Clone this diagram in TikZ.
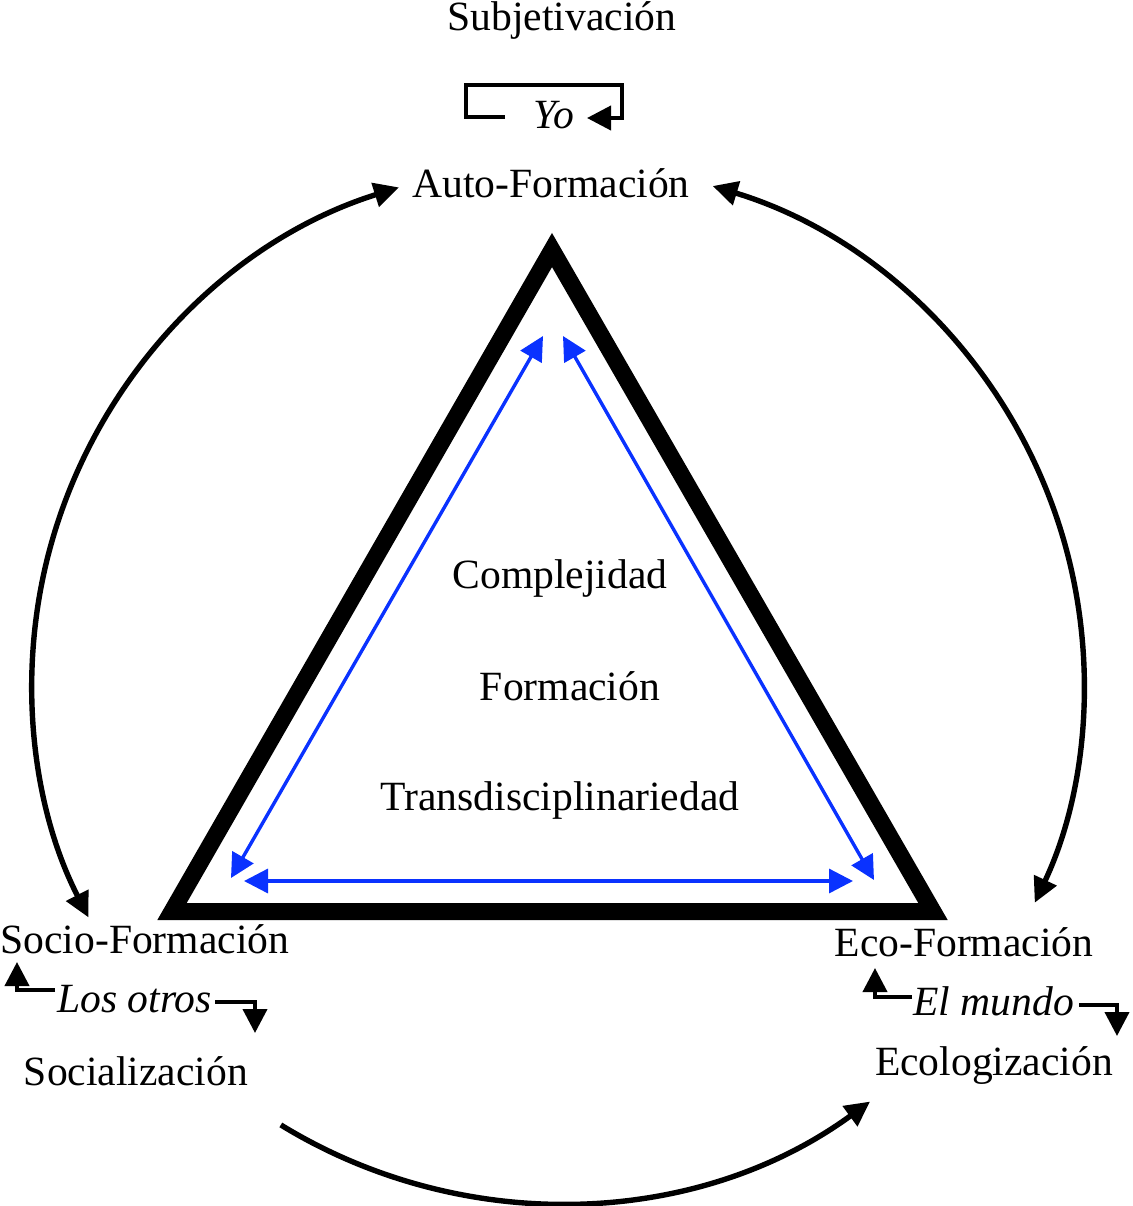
\documentclass[tikz,border=0pt]{standalone}
\usepackage{fontspec}
\setmainfont{Liberation Serif}
\usetikzlibrary{arrows.meta}
\definecolor{arrowblue}{RGB}{10,50,255}
\begin{document}
\begin{tikzpicture}[x=0.5pt,y=-0.5pt,
  lbl/.style={inner sep=0pt,anchor=base,font=\fontsize{20.8}{25}\selectfont},
  ilbl/.style={lbl,font=\fontsize{20.8}{25}\selectfont\itshape},
  bigarc/.style={line width=2.7pt,{Triangle[length=12.5pt,width=12pt]}-{Triangle[length=12.5pt,width=12pt]}},
  onearc/.style={line width=2.7pt,-{Triangle[length=12.5pt,width=12pt]}},
  bluearr/.style={draw=arrowblue,line width=1.7pt,{Triangle[length=12pt,width=12pt]}-{Triangle[length=12pt,width=12pt]}},
  smallarr/.style={line width=2pt,-{Triangle[length=12pt,width=12pt]}},
  tri/.style={line width=8.5pt,miter limit=10}]
\useasboundingbox (0,0) rectangle (1132,1206);

% texts
\node[lbl] (subj) at (562,30) {Subjetivación};
\node[ilbl] (yo) at (554,128) {Yo};
\node[lbl] (auto) at (551,197) {Auto-Formación};
\node[lbl] (comp) at (560,588) {Complejidad};
\node[lbl] (form) at (570,700) {Formación};
\node[lbl] (trans) at (560,810) {Transdisciplinariedad};
\node[lbl,anchor=base west] (socio) at (0,953) {Socio-Formación};
\node[ilbl,anchor=base west] (otros) at (57,1012) {Los otros};
\node[lbl] (socia) at (136,1085) {Socialización};
\node[lbl] (eco) at (964,956) {Eco-Formación};
\node[ilbl,anchor=base west] (mundo) at (913,1015) {El mundo};
\node[lbl] (ecol) at (994,1075) {Ecologización};

% triangle
\coordinate (tA) at (552,250);
\coordinate (tB) at (172,911.5);
\coordinate (tC) at (933,911.5);
\draw[tri] (tA) -- (tB) -- (tC) -- cycle;

% blue arrows
\coordinate (bL1) at (231,878);
\coordinate (bL2) at (543,336);
\coordinate (bR1) at (563,336);
\coordinate (bR2) at (874,880);
\coordinate (bB1) at (244,881);
\coordinate (bB2) at (853,881);
\draw[bluearr] (bL1) -- (bL2);
\draw[bluearr] (bR1) -- (bR2);
\draw[bluearr] (bB1) -- (bB2);

% big arcs (ellipse centre (558,683), rx 526, ry 520)
\coordinate (arcC) at (558,683);
\draw[bigarc] (arcC) ++(-107.6:526 and 520) coordinate (lt) arc[start angle=-107.6,end angle=-206.8,x radius=526,y radius=520] coordinate (lb);
\draw[bigarc] (arcC) ++(-72.9:526 and 520) coordinate (rt) arc[start angle=-72.9,end angle=25.0,x radius=526,y radius=520] coordinate (rb);
\draw[onearc] (arcC) ++(121.8:526 and 520) coordinate (bs) arc[start angle=121.8,end angle=53.6,x radius=526,y radius=520] coordinate (be);

% Yo loop
\coordinate (y1) at (505,117);
\coordinate (y2) at (466,85);
\coordinate (y3) at (622,85);
\coordinate (y4) at (587,118);
\draw[smallarr] (y1) -| (y2) -- (y3) |- (y4);

% Los otros
\coordinate (o1) at (55,990);
\coordinate (o2) at (17,962);
\coordinate (o3) at (215,1002);
\coordinate (o4) at (255,1033);
\draw[smallarr] (o1) -| (o2);
\draw[smallarr] (o3) -| (o4);

% El mundo
\coordinate (m1) at (912,997);
\coordinate (m2) at (875,968);
\coordinate (m3) at (1079,1005);
\coordinate (m4) at (1117,1036);
\draw[smallarr] (m1) -| (m2);
\draw[smallarr] (m3) -| (m4);
\end{tikzpicture}
\end{document}
